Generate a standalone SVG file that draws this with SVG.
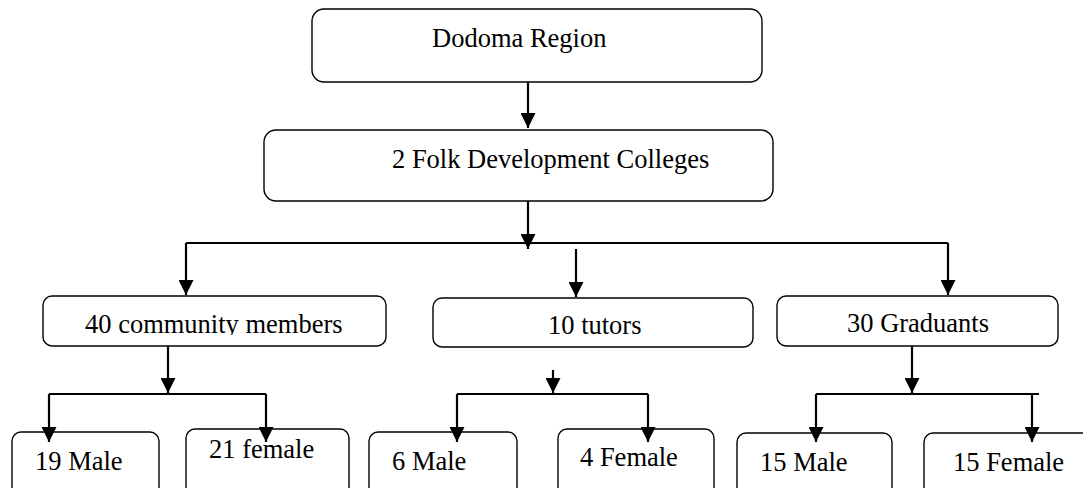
<svg xmlns="http://www.w3.org/2000/svg" width="1083" height="488" viewBox="0 0 1083 488">
<style>
.box{fill:#fff;stroke:#000;stroke-width:1.4}
.t{font-family:"Liberation Serif","Times New Roman",serif;font-size:26.5px;fill:#000}
.c{fill:none;stroke:#000;stroke-width:2.2}
</style>
<defs>
<marker id="ah" markerUnits="userSpaceOnUse" markerWidth="16" markerHeight="15" refX="15" refY="7.5" orient="auto">
<path d="M0,0 L15,7.5 L0,15 z" fill="#000"/>
</marker>
<clipPath id="mid"><rect x="0" y="290" width="1083" height="45"/></clipPath>
</defs>
<g id="n-dodoma"><rect class="box" x="312" y="9" width="450" height="73" rx="12"/><text class="t" x="432" y="47">Dodoma Region</text></g>
<g id="n-colleges"><rect class="box" x="264" y="130" width="509" height="71" rx="12"/><text class="t" x="392" y="168">2 Folk Development Colleges</text></g>
<g id="n-community"><rect class="box" x="43" y="296" width="343" height="50" rx="9"/><text class="t" x="85" y="333" clip-path="url(#mid)">40 community members</text></g>
<g id="n-tutors"><rect class="box" x="433" y="298" width="320" height="49" rx="9"/><text class="t" x="548" y="334" clip-path="url(#mid)">10 tutors</text></g>
<g id="n-graduants"><rect class="box" x="777" y="296" width="281" height="50" rx="9"/><text class="t" x="847" y="332" clip-path="url(#mid)">30 Graduants</text></g>
<g id="n-19male"><rect class="box" x="12" y="432" width="147" height="70" rx="9"/><text class="t" x="35" y="470">19 Male</text></g>
<g id="n-21female"><rect class="box" x="186" y="429" width="163" height="73" rx="9"/><text class="t" x="209" y="458">21 female</text></g>
<g id="n-6male"><rect class="box" x="369" y="432" width="148" height="70" rx="9"/><text class="t" x="392" y="470">6 Male</text></g>
<g id="n-4female"><rect class="box" x="558" y="429" width="156" height="73" rx="9"/><text class="t" x="580" y="466">4 Female</text></g>
<g id="n-15male"><rect class="box" x="737" y="433" width="155" height="70" rx="9"/><text class="t" x="760" y="471">15 Male</text></g>
<g id="n-15female"><rect class="box" x="924" y="433" width="175" height="70" rx="9"/><text class="t" x="953" y="471">15 Female</text></g>
<g id="connectors">
<path class="c" d="M528,82 V128" marker-end="url(#ah)"/>
<path class="c" d="M528,201 V249" marker-end="url(#ah)"/>
<path class="c" d="M186,243 H948"/>
<path class="c" d="M186,243 V295" marker-end="url(#ah)"/>
<path class="c" d="M948,243 V295" marker-end="url(#ah)"/>
<path class="c" d="M576,249 V297" marker-end="url(#ah)"/>
<path class="c" d="M168,346 V393" marker-end="url(#ah)"/>
<path class="c" d="M49,394 H266"/>
<path class="c" d="M49,394 V442" marker-end="url(#ah)"/>
<path class="c" d="M266,394 V442" marker-end="url(#ah)"/>
<path class="c" d="M553,370 V393" marker-end="url(#ah)"/>
<path class="c" d="M457,394 H648"/>
<path class="c" d="M457,394 V442" marker-end="url(#ah)"/>
<path class="c" d="M648,394 V442" marker-end="url(#ah)"/>
<path class="c" d="M912,346 V393" marker-end="url(#ah)"/>
<path class="c" d="M816,394 H1039"/>
<path class="c" d="M816,394 V442" marker-end="url(#ah)"/>
<path class="c" d="M1032,394 V442" marker-end="url(#ah)"/>
</g>
</svg>
